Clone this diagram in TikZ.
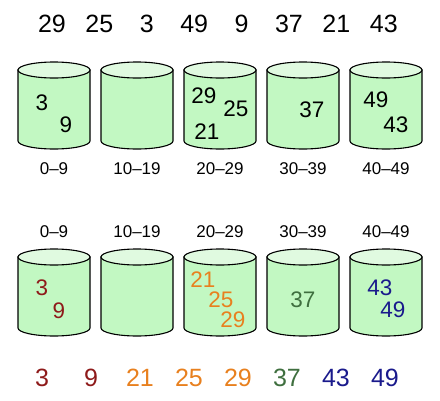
\documentclass[tikz,border=0pt]{standalone}
\usepackage{fontspec}
\setmainfont{Liberation Sans}
\definecolor{binbody}{HTML}{C2F8C2}
\definecolor{bintop}{HTML}{E0FAE0}
\definecolor{dred}{HTML}{8E1A1A}
\definecolor{dorange}{HTML}{E8801E}
\definecolor{dgreen}{HTML}{3F6F3F}
\definecolor{dblue}{HTML}{1A1A8C}
\begin{document}
\begin{tikzpicture}[x=1pt,y=-1pt,
    key/.style={font=\fontsize{25}{25}\selectfont},
    inbin/.style={font=\fontsize{22.5}{22.5}\selectfont},
    rangelbl/.style={font=\fontsize{17}{17}\selectfont},
    bin/.style={draw=black,line width=1.1pt}]
  \useasboundingbox (0,0) rectangle (440,400);
  % buckets
  \foreach \y in {70,257}
    \foreach \x in {54,137,220,303,386} {
      \filldraw[bin,fill=binbody] (\x-36,\y) -- (\x-36,\y+71)
        arc[start angle=180,end angle=360,x radius=36pt,y radius=8pt]
        -- (\x+36,\y) -- cycle;
      \filldraw[bin,fill=bintop] (\x,\y) ellipse[x radius=36pt,y radius=8pt];
    }
  % input
  \foreach \v [count=\i] in {29,25,3,49,9,37,21,43}
    \node[key] (in\i) at (52+47.4*\i-47.4,24) {\v};
  % ranges
  \foreach \r [count=\i] in {0--9,10--19,20--29,30--39,40--49} {
    \node[rangelbl] (rt\i) at (54+83*\i-83,169) {\r};
    \node[rangelbl] (rb\i) at (54+83*\i-83,232) {\r};
  }
  % scattered
  \node[inbin] (s3) at (42,103) {3};
  \node[inbin] (s9) at (66,125) {9};
  \node[inbin] (s29) at (204,96) {29};
  \node[inbin] (s25) at (236,109) {25};
  \node[inbin] (s21) at (207,132) {21};
  \node[inbin] (s37) at (312,110) {37};
  \node[inbin] (s49) at (376,100) {49};
  \node[inbin] (s43) at (396,125) {43};
  % sorted in buckets
  \node[inbin,dred] (q3) at (42,288) {3};
  \node[inbin,dred] (q9) at (59,311) {9};
  \node[inbin,dorange] (q21) at (203,280) {21};
  \node[inbin,dorange] (q25) at (221,300) {25};
  \node[inbin,dorange] (q29) at (233,320) {29};
  \node[inbin,dgreen] (q37) at (303,300) {37};
  \node[inbin,dblue] (q43) at (380,288) {43};
  \node[inbin,dblue] (q49) at (393,310) {49};
  % output
  \foreach \v/\c [count=\i] in {3/dred,9/dred,21/dorange,25/dorange,29/dorange,37/dgreen,43/dblue,49/dblue}
    \node[key,\c] (out\i) at (42+49*\i-49,378) {\v};
\end{tikzpicture}
\end{document}
